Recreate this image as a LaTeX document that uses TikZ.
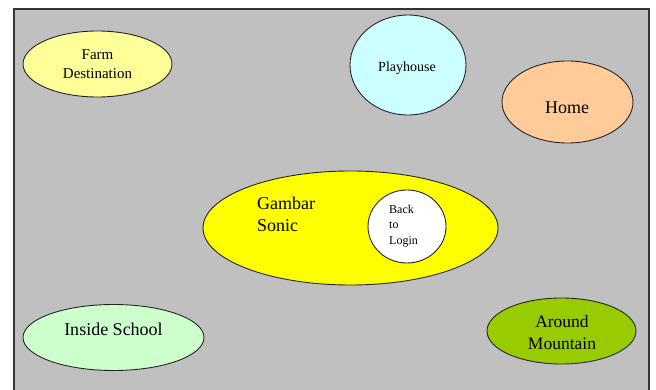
\documentclass[tikz,border=0pt]{standalone}
\usepackage{fontspec}
\setmainfont{Liberation Serif}
\usetikzlibrary{shapes.geometric}

\definecolor{panelgray}{HTML}{C0C0C0}
\definecolor{farmfill}{HTML}{FFFF99}
\definecolor{playfill}{HTML}{CCFFFF}
\definecolor{homefill}{HTML}{FFCC99}
\definecolor{sonicfill}{HTML}{FFFF00}
\definecolor{schoolfill}{HTML}{CCFFCC}
\definecolor{mountfill}{HTML}{99CC00}

\tikzset{
  region/.style={ellipse, draw=black!85, line width=0.9pt, inner sep=0pt},
  lbl/.style={inner sep=0pt, align=center, text=black},
  fs/.style={font=\fontsize{#1}{1.2*#1}\selectfont}
}

\begin{document}
\begin{tikzpicture}[x=1pt, y=-1pt]
  \useasboundingbox (0,0) rectangle (656,390);
  \fill[white] (0,0) rectangle (656,390);

  % grey panel, open towards the bottom edge
  \fill[panelgray] (14,9) rectangle (649,395);
  \draw[black!80, line width=1.2pt] (14,395) -- (14,9) -- (649,9) -- (649,395);

  % destinations
  \node[region, fill=farmfill, minimum width=149pt, minimum height=66pt] (farm) at (97.5,64) {};
  \node[lbl, font=\fontsize{15}{19}\selectfont] (farmtxt) at (97.5,64.5) {Farm\\Destination};

  \node[region, fill=playfill, minimum width=116pt, minimum height=100pt] (play) at (408,65) {};
  \node[lbl, font=\fontsize{14}{17}\selectfont] (playtxt) at (407,68) {Playhouse};

  \node[region, fill=homefill, minimum width=131pt, minimum height=82pt] (home) at (567.5,102) {};
  \node[lbl, font=\fontsize{18}{21}\selectfont] (hometxt) at (567,108) {Home};

  \node[region, fill=sonicfill, minimum width=295pt, minimum height=114pt] (sonic) at (350.5,228) {};
  \node[lbl, align=left, anchor=west, font=\fontsize{18}{22}\selectfont] (sonictxt) at (257,214) {Gambar\\Sonic};

  \node[region, fill=white, minimum width=78pt, minimum height=73pt] (back) at (407,226.5) {};
  \node[lbl, align=left, anchor=west, font=\fontsize{12}{15.5}\selectfont] (backtxt) at (389,226) {Back\\to\\Login};

  \node[region, fill=schoolfill, minimum width=181pt, minimum height=66pt] (school) at (113.5,337.5) {};
  \node[lbl, font=\fontsize{18}{22}\selectfont] (schooltxt) at (113.5,329) {Inside School};

  \node[region, fill=mountfill, minimum width=149pt, minimum height=66pt] (mount) at (561.5,331) {};
  \node[lbl, font=\fontsize{17.5}{22}\selectfont] (mounttxt) at (562,333) {Around\\Mountain};
\end{tikzpicture}
\end{document}
